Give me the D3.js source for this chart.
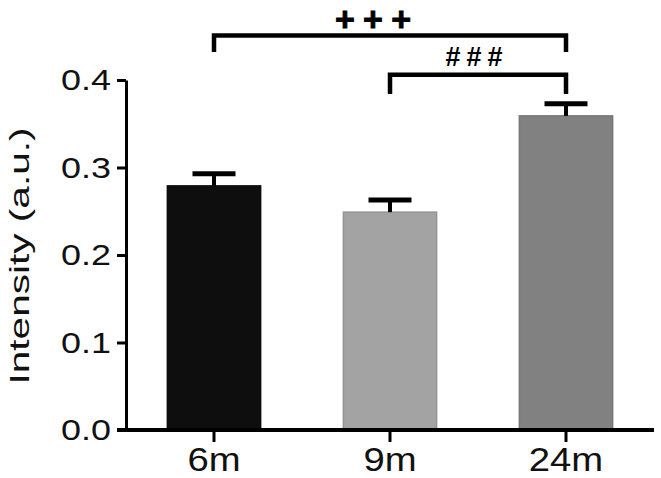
<!DOCTYPE html>
<html>
<head>
<meta charset="utf-8">
<script src="https://cdn.jsdelivr.net/npm/d3@7"></script>
<style>
  body { margin: 0; background: #fff; }
  svg { display: block; font-family: "Liberation Sans", Arial, sans-serif; }
  .axis path, .axis line { stroke: #000; }
</style>
</head>
<body>
<div id="chart"></div>
<script>
// data
const groups = ["6m", "9m", "24m"];
const means = [0.279, 0.249, 0.359];
const sems = [0.014, 0.014, 0.014];
const barColors = ["#0e0e0e", "#a3a3a3", "#818181"];
const yTicks = [0.0, 0.1, 0.2, 0.3, 0.4];
const comparisons = [
  {from: "6m", to: "24m", label: "+++", level: 0.451, leg: 0.432},
  {from: "9m", to: "24m", label: "###", level: 0.406, leg: 0.384}
];
const yTitle = "Intensity (a.u.)";

const width = 661, height = 478;
const margin = {top: 80, right: 7, bottom: 48, left: 126};

const svg = d3.select("#chart")
  .append("svg")
  .attr("width", width)
  .attr("height", height);

const x = d3.scaleBand()
  .domain(groups)
  .range([margin.left, width - margin.right])
  .paddingInner(0.47)
  .paddingOuter(0.235);

const y = d3.scaleLinear()
  .domain([0, 0.4])
  .range([height - margin.bottom, margin.top]);

// bars
svg.selectAll(".bar")
  .data(groups)
  .enter()
  .append("rect")
  .attr("class", "bar")
  .attr("x", d => x(d))
  .attr("y", (d, i) => y(means[i]))
  .attr("width", x.bandwidth())
  .attr("height", (d, i) => y(0) - y(means[i]))
  .attr("fill", (d, i) => barColors[i])
  .attr("stroke", (d, i) => d3.color(barColors[i]).darker(0.25))
  .attr("stroke-width", 1.5);

// error bars (upper only)
const capHalf = 21.5;
const err = svg.selectAll(".err")
  .data(groups)
  .enter()
  .append("g")
  .attr("class", "err")
  .attr("stroke", "#000");

err.append("line")
  .attr("x1", d => x(d) + x.bandwidth() / 2)
  .attr("x2", d => x(d) + x.bandwidth() / 2)
  .attr("y1", (d, i) => y(means[i]))
  .attr("y2", (d, i) => y(means[i] + sems[i]))
  .attr("stroke-width", 4);

err.append("line")
  .attr("x1", d => x(d) + x.bandwidth() / 2 - capHalf)
  .attr("x2", d => x(d) + x.bandwidth() / 2 + capHalf)
  .attr("y1", (d, i) => y(means[i] + sems[i]))
  .attr("y2", (d, i) => y(means[i] + sems[i]))
  .attr("stroke-width", 5);

// axes
const yAxis = d3.axisLeft(y)
  .tickValues(yTicks)
  .tickFormat(d3.format(".1f"))
  .tickSize(9)
  .tickSizeOuter(0)
  .tickPadding(6);

const gy = svg.append("g")
  .attr("class", "y axis")
  .attr("transform", "translate(" + margin.left + ",0)")
  .call(yAxis);

gy.select(".domain").attr("stroke-width", 3);
gy.selectAll(".tick line").attr("stroke-width", 3);
gy.selectAll(".tick text")
  .attr("fill", "#111")
  .attr("font-size", 30)
  .attr("textLength", 50)
  .attr("lengthAdjust", "spacingAndGlyphs");

const xAxis = d3.axisBottom(x)
  .tickSize(12)
  .tickSizeOuter(0)
  .tickPadding(6);

const gx = svg.append("g")
  .attr("class", "x axis")
  .attr("transform", "translate(0," + y(0) + ")")
  .call(xAxis);

gx.select(".domain")
  .attr("stroke-width", 4)
  .attr("d", "M" + (margin.left - 9) + ",0H" + (width - margin.right));
gx.selectAll(".tick line").attr("stroke-width", 3);
gx.selectAll(".tick text")
  .attr("fill", "#111")
  .attr("font-size", 33)
  .attr("transform", "scale(1.16,1)");

// y title
svg.append("text")
  .attr("transform", "translate(29," + ((y(0) + y(0.4)) / 2 + 1) + ") rotate(-90)")
  .attr("text-anchor", "middle")
  .attr("font-size", 28)
  .attr("fill", "#111")
  .attr("textLength", 257)
  .attr("lengthAdjust", "spacingAndGlyphs")
  .text(yTitle);

// significance brackets
const cx = d => x(d) + x.bandwidth() / 2;
const labelShift = {"+++": -17, "###": -4};
const labelWidth = {"+++": 76, "###": 57};
const labelSize = {"+++": 34, "###": 27};

const br = svg.selectAll(".bracket")
  .data(comparisons)
  .enter()
  .append("g")
  .attr("class", "bracket");

br.append("path")
  .attr("d", d => "M" + cx(d.from) + "," + y(d.leg) +
    "V" + y(d.level) + "H" + cx(d.to) + "V" + y(d.leg))
  .attr("fill", "none")
  .attr("stroke", "#000")
  .attr("stroke-width", 4.5);

br.append("text")
  .attr("x", d => (cx(d.from) + cx(d.to)) / 2 + labelShift[d.label])
  .attr("y", d => y(d.level) - (d.label === "+++" ? 4 : 9))
  .attr("text-anchor", "middle")
  .attr("font-weight", "bold")
  .attr("font-size", d => labelSize[d.label])
  .attr("stroke", "#000")
  .attr("stroke-width", d => d.label === "+++" ? 0.9 : 0)
  .attr("textLength", d => labelWidth[d.label])
  .attr("lengthAdjust", "spacing")
  .text(d => d.label);
</script>
</body>
</html>
